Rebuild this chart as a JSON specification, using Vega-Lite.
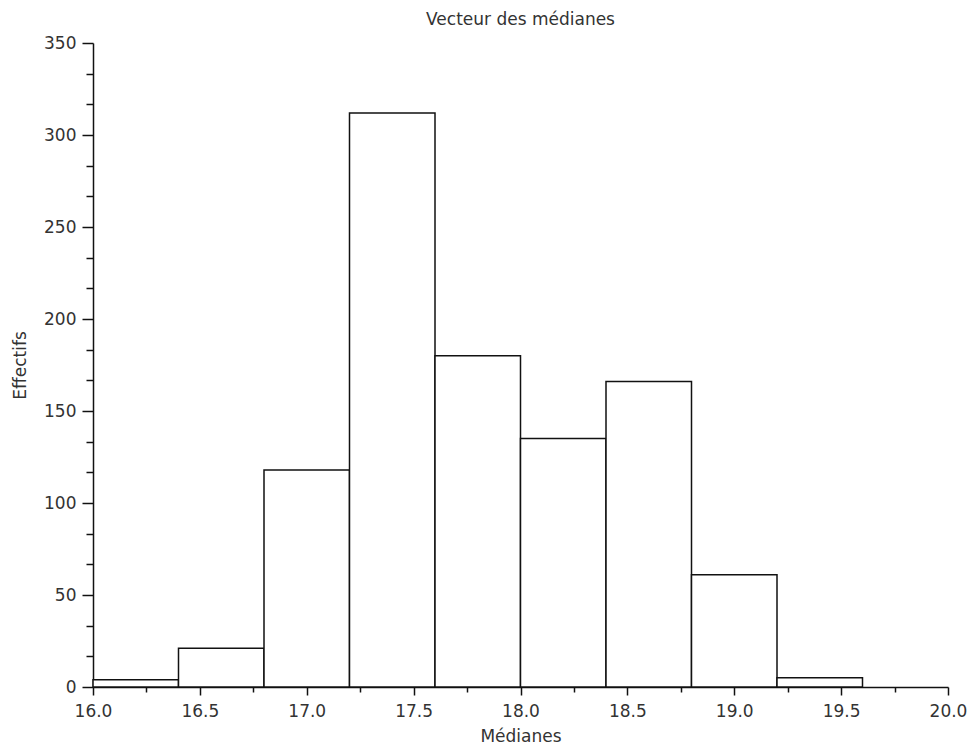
{
  "$schema": "https://vega.github.io/schema/vega-lite/v6.json",
  "width": 855,
  "height": 644,
  "autosize": "none",
  "padding": {"left": 93, "top": 43, "right": 22, "bottom": 58},
  "background": "white",
  "config": {
    "view": {"stroke": null},
    "font": "DejaVu Sans",
    "axis": {"grid": false, "domainColor": "#111", "domainWidth": 1.5, "tickColor": "#111", "tickWidth": 1.5, "labelColor": "#333", "labelFont": "DejaVu Sans", "labelFontSize": 17, "titleColor": "#333", "titleFont": "DejaVu Sans", "titleFontSize": 17, "titleFontWeight": "normal"}
  },
  "title": {"text": "Vecteur des médianes", "fontSize": 17, "fontWeight": "normal", "color": "#333", "anchor": "middle", "offset": 5, "font": "DejaVu Sans"},
  "data": {"values": [
    {"start": 16.0, "end": 16.4, "count": 4},
    {"start": 16.4, "end": 16.8, "count": 21},
    {"start": 16.8, "end": 17.2, "count": 118},
    {"start": 17.2, "end": 17.6, "count": 312},
    {"start": 17.6, "end": 18.0, "count": 180},
    {"start": 18.0, "end": 18.4, "count": 135},
    {"start": 18.4, "end": 18.8, "count": 166},
    {"start": 18.8, "end": 19.2, "count": 61},
    {"start": 19.2, "end": 19.6, "count": 5}
  ]},
  "layer": [
    {
      "mark": {"type": "bar", "fill": "white", "stroke": "#111", "strokeWidth": 1.5},
      "encoding": {
        "x": {"field": "start", "type": "quantitative", "scale": {"domain": [16, 20], "nice": false, "zero": false},
              "axis": {"orient": "bottom", "title": "Médianes", "values": [16, 16.5, 17, 17.5, 18, 18.5, 19, 19.5, 20], "format": ".1f", "tickSize": 8, "labelPadding": 8, "titlePadding": 9, "labelFlush": false}},
        "x2": {"field": "end"},
        "y": {"field": "count", "type": "quantitative", "scale": {"domain": [0, 350], "nice": false},
              "axis": {"orient": "left", "title": "Effectifs", "values": [0, 50, 100, 150, 200, 250, 300, 350], "tickSize": 11, "labelPadding": 6, "titlePadding": 14}},
        "y2": {"datum": 0}
      }
    },
    {
      "mark": {"type": "point", "opacity": 0},
      "encoding": {
        "x": {"field": "start", "type": "quantitative",
              "axis": {"orient": "bottom", "title": null, "labels": false, "domain": false, "values": [16.25, 16.75, 17.25, 17.75, 18.25, 18.75, 19.25, 19.75], "tickSize": 5}},
        "y": {"field": "count", "type": "quantitative",
              "axis": {"orient": "left", "title": null, "labels": false, "domain": false, "values": [16.667, 33.333, 66.667, 83.333, 116.667, 133.333, 166.667, 183.333, 216.667, 233.333, 266.667, 283.333, 316.667, 333.333], "tickSize": 7}}
      }
    }
  ],
  "resolve": {"axis": {"x": "independent", "y": "independent"}}
}
